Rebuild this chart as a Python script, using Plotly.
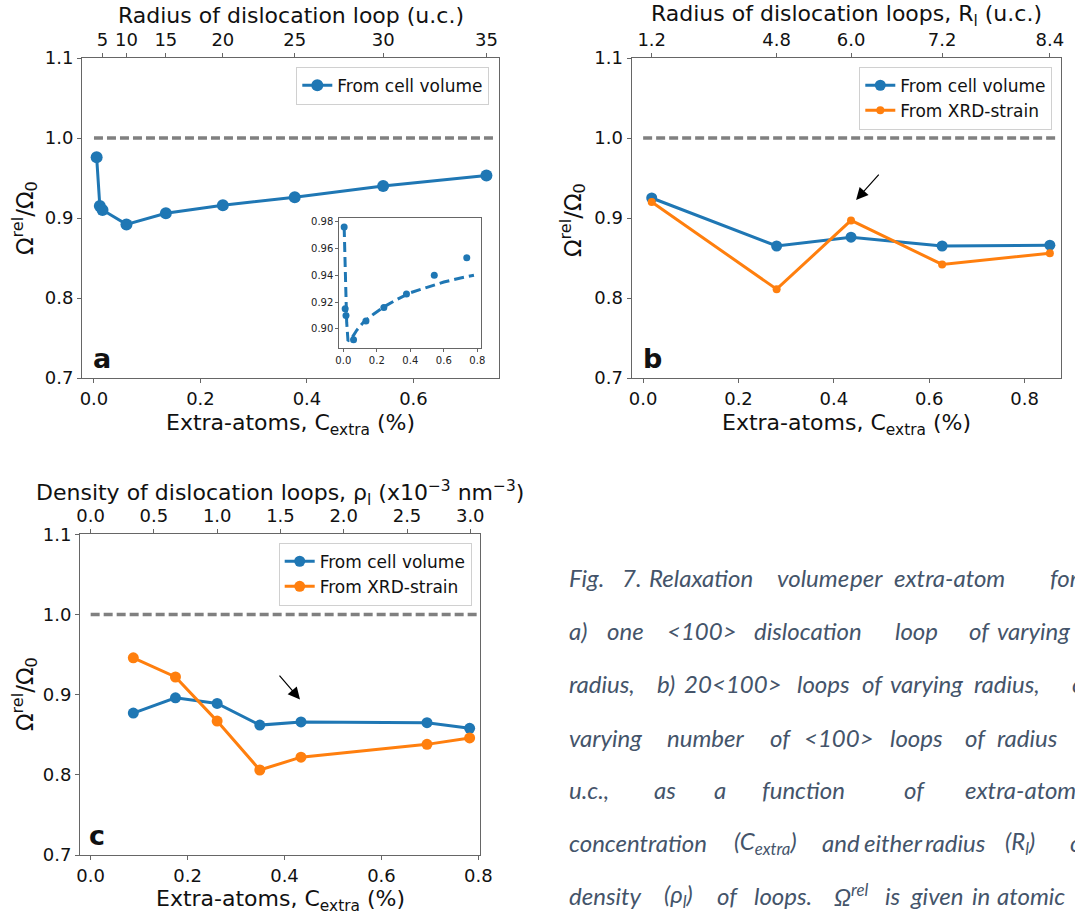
import plotly.graph_objects as go

W, H = 1075, 917
BLUE = "#1f77b4"
ORANGE = "#ff7f0e"
GREY = "#808080"
SPINE = "#666666"
FONT = "DejaVu Sans"

# ---------------- data ----------------
# Panel a: one loop of varying radius
c_a = [0.005, 0.011, 0.016, 0.061, 0.135, 0.242, 0.377, 0.543, 0.737]
omega_a = [0.976, 0.915, 0.910, 0.892, 0.906, 0.916, 0.926, 0.940, 0.953]
radius_a_ticks = ["5", "10", "15", "20", "25", "30", "35"]
radius_a_pos = c_a[2:]
# inset fit curve
fit_c = [0.005, 0.012, 0.020, 0.028, 0.05, 0.08, 0.12, 0.18, 0.25, 0.32, 0.40, 0.50, 0.60, 0.70, 0.78]
fit_omega = [0.976, 0.940, 0.905, 0.891, 0.893, 0.899, 0.905, 0.911, 0.917, 0.922, 0.927, 0.931, 0.935, 0.938, 0.940]

# Panel b: 20 loops of varying radius
c_b = [0.018, 0.280, 0.436, 0.627, 0.853]
cell_b = [0.925, 0.865, 0.876, 0.865, 0.866]
xrd_b = [0.920, 0.811, 0.897, 0.842, 0.856]
radius_b_ticks = ["1.2", "4.8", "6.0", "7.2", "8.4"]

# Panel c: varying number of loops
c_c = [0.088, 0.175, 0.261, 0.349, 0.434, 0.694, 0.782]
cell_c = [0.877, 0.896, 0.889, 0.862, 0.866, 0.865, 0.858]
xrd_c = [0.946, 0.922, 0.867, 0.806, 0.822, 0.838, 0.846]
rho_ticks = [0.0, 0.5, 1.0, 1.5, 2.0, 2.5, 3.0]
rho_per_c = 3.83

ref_y = 1.0
y_ticks = [0.7, 0.8, 0.9, 1.0, 1.1]
inset_xticks = [0.0, 0.2, 0.4, 0.6, 0.8]
inset_yticks = [0.90, 0.92, 0.94, 0.96, 0.98]
bottom_ticks = [0.0, 0.2, 0.4, 0.6, 0.8]

# ---------------- layout helpers ----------------
def px(x):
    return x / W

def py(y):
    return 1 - y / H

range_a = [-0.0225, 0.7606]
range_b = [-0.0244, 0.877]
range_c = [-0.022, 0.804]
range_in_x = [-0.024, 0.822]
range_in_y = [0.886, 0.9825]

fig = go.Figure()

dash_ref = dict(color=GREY, width=3.3, dash="9px,4px")
# reference dashed lines
fig.add_trace(go.Scatter(x=[0, 0.75], y=[ref_y, ref_y], mode="lines", xaxis="x", yaxis="y",
                         line=dash_ref, showlegend=False, hoverinfo="skip"))
fig.add_trace(go.Scatter(x=[0, 0.871], y=[ref_y, ref_y], mode="lines", xaxis="x3", yaxis="y2",
                         line=dash_ref, showlegend=False, hoverinfo="skip"))
fig.add_trace(go.Scatter(x=[0, 0.81], y=[ref_y, ref_y], mode="lines", xaxis="x5", yaxis="y3",
                         line=dash_ref, showlegend=False, hoverinfo="skip"))

# invisible carriers so the secondary (top) axes are drawn
fig.add_trace(go.Scatter(x=radius_a_pos, y=omega_a[2:], mode="markers", xaxis="x2", yaxis="y",
                         marker=dict(opacity=0), showlegend=False, hoverinfo="skip"))
fig.add_trace(go.Scatter(x=c_b, y=cell_b, mode="markers", xaxis="x4", yaxis="y2",
                         marker=dict(opacity=0), showlegend=False, hoverinfo="skip"))
fig.add_trace(go.Scatter(x=c_c, y=cell_c, mode="markers", xaxis="x6", yaxis="y3",
                         marker=dict(opacity=0), showlegend=False, hoverinfo="skip"))

# panel a
fig.add_trace(go.Scatter(x=c_a, y=omega_a, mode="lines+markers", name="From cell volume",
                         xaxis="x", yaxis="y", legend="legend",
                         line=dict(color=BLUE, width=3), marker=dict(color=BLUE, size=12)))
# panel b
fig.add_trace(go.Scatter(x=c_b, y=cell_b, mode="lines+markers", name="From cell volume",
                         xaxis="x3", yaxis="y2", legend="legend2",
                         line=dict(color=BLUE, width=3), marker=dict(color=BLUE, size=11)))
fig.add_trace(go.Scatter(x=c_b, y=xrd_b, mode="lines+markers", name="From XRD-strain",
                         xaxis="x3", yaxis="y2", legend="legend2",
                         line=dict(color=ORANGE, width=3), marker=dict(color=ORANGE, size=8)))
# panel c
fig.add_trace(go.Scatter(x=c_c, y=cell_c, mode="lines+markers", name="From cell volume",
                         xaxis="x5", yaxis="y3", legend="legend3",
                         line=dict(color=BLUE, width=3), marker=dict(color=BLUE, size=11)))
fig.add_trace(go.Scatter(x=c_c, y=xrd_c, mode="lines+markers", name="From XRD-strain",
                         xaxis="x5", yaxis="y3", legend="legend3",
                         line=dict(color=ORANGE, width=3), marker=dict(color=ORANGE, size=11)))
# inset
fig.add_trace(go.Scatter(x=fit_c, y=fit_omega, mode="lines", xaxis="x7", yaxis="y4", showlegend=False,
                         line=dict(color=BLUE, width=3, dash="10px,5px")))
fig.add_trace(go.Scatter(x=c_a, y=omega_a, mode="markers", xaxis="x7", yaxis="y4", showlegend=False,
                         marker=dict(color=BLUE, size=7)))

tickfont = dict(family=FONT, size=18, color="#111111")
base_ax = dict(showgrid=False, zeroline=False, automargin=False)
common_x = dict(base_ax, showline=True, mirror=True, linecolor=SPINE, linewidth=1,
                ticks="outside", ticklen=4, tickcolor=SPINE, tickfont=tickfont)
common_y = dict(base_ax, showline=True, mirror=True, linecolor=SPINE, linewidth=1,
                ticks="outside", ticklen=4, tickcolor=SPINE, tickfont=tickfont,
                range=[0.7, 1.1], tickvals=y_ticks, tickformat=".1f")
top_x = dict(base_ax, showline=False, ticks="outside", ticklen=4,
             tickcolor=SPINE, tickfont=tickfont, side="top")
inset_ax = dict(base_ax, showline=True, mirror=True, linecolor=SPINE, linewidth=1,
                ticks="outside", ticklen=3, tickcolor=SPINE,
                tickfont=dict(family=FONT, size=10, color="#222222"))

dom_a = [px(82), px(499)]
dom_b = [px(631.5), px(1061.3)]
dom_c = [px(80), px(480.3)]
ydom_ab = [py(378), py(58)]
ydom_c = [py(855), py(534.3)]

legend_style = dict(xanchor="right", yanchor="top", bgcolor="white", bordercolor="#d0d0d0",
                    borderwidth=1, font=dict(family=FONT, size=17, color="#111111"))

fig.update_layout(
    template="none",
    width=W, height=H, margin=dict(l=0, r=0, t=0, b=0, pad=0, autoexpand=False),
    paper_bgcolor="white", plot_bgcolor="white",
    font=dict(family=FONT, color="#111111"),
    xaxis=dict(common_x, domain=dom_a, range=range_a, anchor="y", tickvals=bottom_ticks[:4], tickformat=".1f"),
    xaxis2=dict(top_x, domain=dom_a, range=range_a, anchor="y", overlaying="x",
                tickvals=radius_a_pos, ticktext=radius_a_ticks),
    yaxis=dict(common_y, domain=ydom_ab, anchor="x"),
    xaxis3=dict(common_x, domain=dom_b, range=range_b, anchor="y2", tickvals=bottom_ticks, tickformat=".1f"),
    xaxis4=dict(top_x, domain=dom_b, range=range_b, anchor="y2", overlaying="x3",
                tickvals=c_b, ticktext=radius_b_ticks),
    yaxis2=dict(common_y, domain=ydom_ab, anchor="x3"),
    xaxis5=dict(common_x, domain=dom_c, range=range_c, anchor="y3", tickvals=bottom_ticks, tickformat=".1f"),
    xaxis6=dict(top_x, domain=dom_c, range=range_c, anchor="y3", overlaying="x5",
                tickvals=[r / rho_per_c for r in rho_ticks], ticktext=[f"{r:.1f}" for r in rho_ticks]),
    yaxis3=dict(common_y, domain=ydom_c, anchor="x5"),
    xaxis7=dict(inset_ax, domain=[px(339.3), px(481)], range=range_in_x, anchor="y4",
                tickvals=inset_xticks, tickformat=".1f"),
    yaxis4=dict(inset_ax, domain=[py(347.7), py(218.3)], range=range_in_y, anchor="x7",
                tickvals=inset_yticks, tickformat=".2f"),
    legend=dict(legend_style, x=px(489.3), y=py(66.7)),
    legend2=dict(legend_style, x=px(1052.3), y=py(66.7)),
    legend3=dict(legend_style, x=px(471.7), y=py(542.7)),
)

ann = []
def text(t, x, y, size=22, angle=0, bold=False, xanchor="center", color="#111111", family=FONT, italic=False):
    if bold:
        t = f"<b>{t}</b>"
    if italic:
        t = f"<i>{t}</i>"
    ann.append(dict(text=t, x=px(x), y=py(y), xref="paper", yref="paper", showarrow=False,
                    textangle=angle, xanchor=xanchor, yanchor="middle",
                    font=dict(family=family, size=size, color=color)))

# axis titles
text("Radius of dislocation loop (u.c.)", 290.5, 16)
text("Extra-atoms, C<sub>extra</sub> (%)", 290.5, 424)
text("Ω<sup>rel</sup>/Ω<sub>0</sub>", 24, 218, size=23, angle=-90)
text("Radius of dislocation loops, R<sub>l</sub> (u.c.)", 846, 16)
text("Extra-atoms, C<sub>extra</sub> (%)", 846, 424)
text("Ω<sup>rel</sup>/Ω<sub>0</sub>", 572, 220, size=23, angle=-90)
text("Density of dislocation loops, ρ<sub>l</sub> (x10<sup>−3</sup> nm<sup>−3</sup>)", 280, 493)
text("Extra-atoms, C<sub>extra</sub> (%)", 280, 900)
text("Ω<sup>rel</sup>/Ω<sub>0</sub>", 24, 694, size=23, angle=-90)
# panel letters
text("a", 102, 358, size=27, bold=True)
text("b", 652, 358, size=27, bold=True)
text("c", 97, 835, size=27, bold=True)

# arrows
ann.append(dict(x=0.4466, y=0.9225, ax=0.497, ay=0.956, xref="x3", yref="y2", axref="x3", ayref="y2",
                text="", showarrow=True, arrowhead=2, arrowsize=2, arrowwidth=1.2, arrowcolor="black"))
ann.append(dict(x=0.432, y=0.894, ax=0.387, ay=0.9257, xref="x5", yref="y3", axref="x5", ayref="y3",
                text="", showarrow=True, arrowhead=2, arrowsize=2, arrowwidth=1.2, arrowcolor="black"))

# caption (justified text, placed word by word)
caption = [
    (577, [("Fig.", 566.7), ("7.", 620), ("Relaxation", 646.7), ("volume", 775), ("per", 848.3),
           ("extra-atom", 891.7), ("for", 1048.3)]),
    (630, [("a)", 566.7), ("one", 605), ("&lt;100&gt;", 665), ("dislocation", 751.7), ("loop", 893.3),
           ("of", 966.7), ("varying", 995)]),
    (683.5, [("radius,", 566.7), ("b)", 655), ("20", 681.7), ("&lt;100&gt;", 710), ("loops", 795), ("of", 860),
             ("varying", 888.3), ("radius,", 971.7), ("c)", 1070)]),
    (737, [("varying", 566.7), ("number", 665), ("of", 768.3), ("&lt;100&gt;", 801.7), ("loops", 888.3),
           ("of", 963.3), ("radius", 995)]),
    (789, [("u.c.,", 566.7), ("as", 651.7), ("a", 711.7), ("function", 760), ("of", 901.7),
           ("extra-atom", 963.3)]),
    (842, [("concentration", 566.7), ("(C<sub>extra</sub>)", 731.7), ("and", 820), ("either", 861.7),
           ("radius", 923.3), ("(R<sub>l</sub>)", 1003.3), ("or", 1068.3)]),
    (895, [("density", 566.7), ("(ρ<sub>l</sub>)", 661.7), ("of", 715), ("loops.", 751.7),
           ("Ω<sup>rel</sup>", 831.7), ("is", 883.3), ("given", 908.3), ("in", 970), ("atomic", 995)]),
]
for yy, words in caption:
    for w, xx in words:
        text(w, xx, yy, size=24, xanchor="left", color="#44546a", family="Lato", italic=True)

fig.update_layout(annotations=ann)
fig.write_html("out.html")
